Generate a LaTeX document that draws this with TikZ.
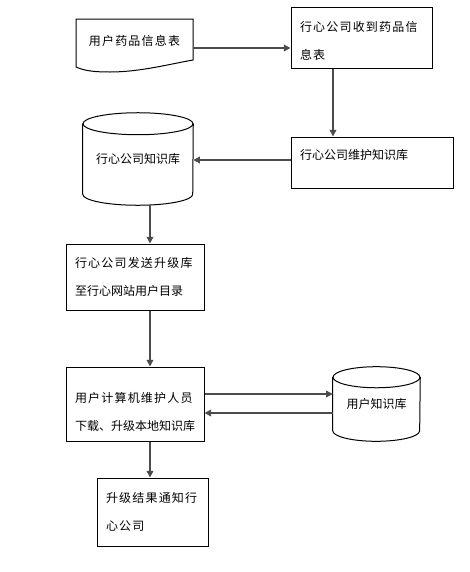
\documentclass[tikz,border=0pt]{standalone}
\usepackage{fontspec}
\setmainfont{Noto Sans CJK SC}
\newfontfamily\wide[LetterSpace=10]{Noto Sans CJK SC}
\usetikzlibrary{arrows.meta,calc}
\begin{document}
\begin{tikzpicture}[x=0.75pt,y=-0.75pt,
  box/.style={draw=black, line width=0.75pt, align=left, inner xsep=6.75pt, font=\fontsize{9}{21}\selectfont},
  plain/.style={draw=none, font=\fontsize{9}{21}\selectfont, align=center, inner sep=0pt},
  arr/.style={draw=black!70, line width=1pt, -{Triangle[length=5pt,width=5pt]}},
  shp/.style={draw=black, line width=0.75pt}]
\useasboundingbox[fill=white] (0,0) rectangle (469,572);

% document shape
\node[plain, minimum width=87.75pt, minimum height=36pt] (doc) at (134.5,41) {\wide 用户药品信息表};
\draw[shp] (76,67) -- (76,19) -- (193,19) -- (193,60)
  .. controls (170,64) and (140,72) .. (110,72)
  .. controls (95,72) and (85,71) .. (76,67);

% boxes
\node[box, minimum width=105.75pt, minimum height=45.75pt, text width=92.25pt, text height=12pt] (b1) at (361.5,37.5) {\wide 行心公司收到药品信\\息表};
\node[box, minimum width=121.5pt, minimum height=38.25pt, text width=108pt, text depth=12pt] (b2) at (372,162.5) {行心公司维护知识库};
\node[box, minimum width=103.5pt, minimum height=49.5pt, text width=90pt] (b3) at (135,277) {{\wide 行心公司发送升级库}\\至行心网站用户目录};
\node[box, minimum width=103.5pt, minimum height=55.5pt, text width=90pt, text depth=10pt] (b4) at (135,404) {{\wide 用户计算机维护人员}\\下载、升级本地知识库};
\node[box, minimum width=83.25pt, minimum height=51pt, text width=69.75pt] (b5) at (152.5,512) {\wide 升级结果通知行\\心公司};

% cylinders
\node[plain, minimum width=82.5pt, minimum height=69pt] (cyl1) at (138,159) {行心公司知识库};
\draw[shp] ($(cyl1.north)+(0,11)$) ellipse [x radius=41.25pt, y radius=8.25pt];
\draw[shp] ($(cyl1.north west)+(0,11)$) -- ($(cyl1.south west)+(0,-11)$)
  arc[start angle=180, end angle=360, x radius=41.25pt, y radius=8.25pt]
  -- ($(cyl1.north east)+(0,11)$);

\node[plain, minimum width=65.25pt, minimum height=55.5pt] (cyl2) at (376.5,404) {用户知识库};
\draw[shp] ($(cyl2.north)+(0,10.5)$) ellipse [x radius=32.6pt, y radius=7.9pt];
\draw[shp] ($(cyl2.north west)+(0,10.5)$) -- ($(cyl2.south west)+(0,-10.5)$)
  arc[start angle=180, end angle=360, x radius=32.6pt, y radius=7.9pt]
  -- ($(cyl2.north east)+(0,10.5)$);

% routing coordinates
\coordinate (r1) at (0,48);
\coordinate (r2) at (0,160);
\coordinate (c2) at (333,0);
\coordinate (c3) at (150,0);
\coordinate (r4a) at (0,394);
\coordinate (r4b) at (0,413);

% connectors
\draw[arr] (doc.east |- r1) -- (b1.west |- r1);
\draw[arr] (b1.south -| c2) -- (b2.north -| c2);
\draw[arr] (b2.west |- r2) -- (cyl1.east |- r2);
\draw[arr] (cyl1.south -| c3) -- (b3.north -| c3);
\draw[arr] (b3.south -| c3) -- (b4.north -| c3);
\draw[arr] (b4.east |- r4a) -- (cyl2.west |- r4a);
\draw[arr] (cyl2.west |- r4b) -- (b4.east |- r4b);
\draw[arr] (b4.south -| c3) -- (b5.north -| c3);
\end{tikzpicture}
\end{document}
